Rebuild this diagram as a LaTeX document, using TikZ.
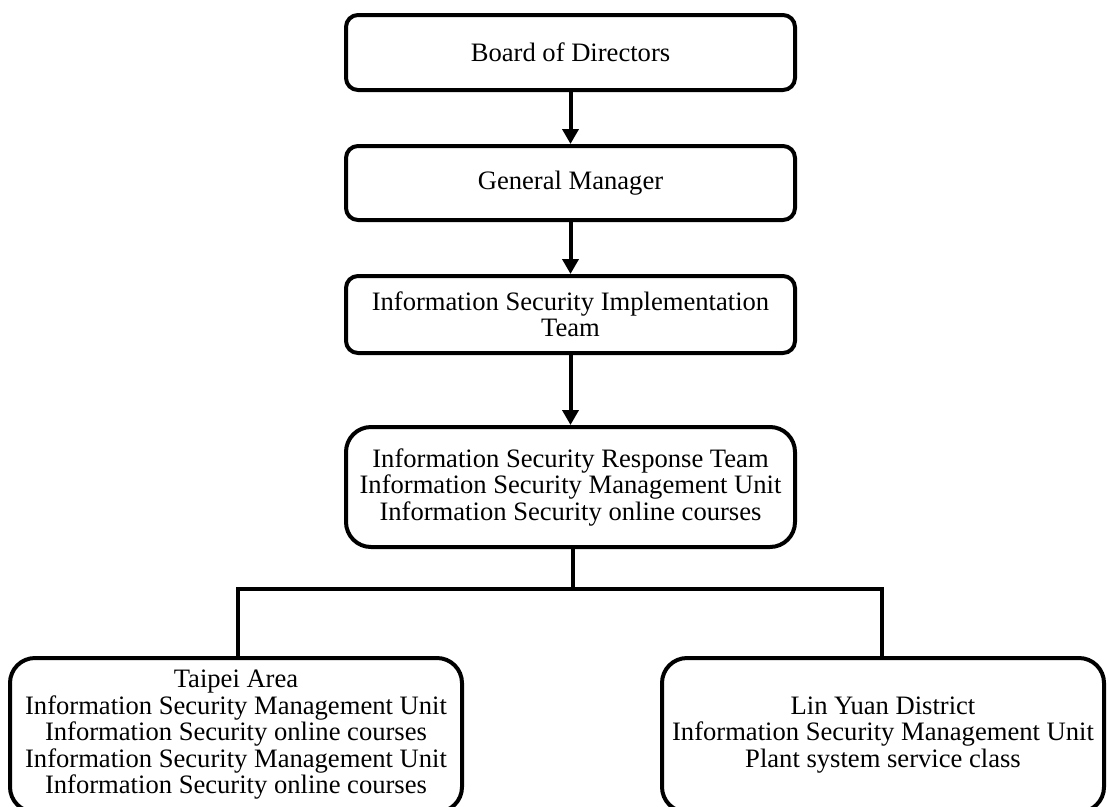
\documentclass[tikz,border=0pt]{standalone}
\usepackage{fontspec}
\setmainfont{Liberation Serif}
\usetikzlibrary{arrows.meta}
\begin{document}
\begin{tikzpicture}[x=1pt,y=-1pt,
  box/.style={draw=black, line width=4pt, fill=white, rounded corners=12pt, inner sep=0pt,
    align=center, font=\fontsize{26.6}{26.5}\selectfont, text=black},
  bigbox/.style={box, rounded corners=25pt},
  arr/.style={line width=4pt, -{Triangle[width=16pt,length=15pt]}},
  conn/.style={line width=3.8pt}]
\useasboundingbox (0,0) rectangle (1107,806);
\node[box, minimum width=449pt, minimum height=75pt] (b1) at (570.5,52.5) {Board of Directors};
\node[box, minimum width=449pt, minimum height=74pt] (b2) at (570.5,183) {General Manager};
\node[box, minimum width=449pt, minimum height=77pt] (b3) at (570.5,314.5) {Information Security Implementation\\Team};
\node[bigbox, minimum width=449pt, minimum height=120pt] (b4) at (570.5,487) {Information Security Response Team\\Information Security Management Unit\\Information Security online courses};
\node[bigbox, minimum width=452pt, minimum height=154pt] (l) at (236,735) {Taipei Area\\Information Security Management Unit\\Information Security online courses\\Information Security Management Unit\\Information Security online courses};
\node[bigbox, minimum width=442pt, minimum height=154pt] (r) at (883,735) {Lin Yuan District\\Information Security Management Unit\\Plant system service class};
\draw[arr] (b1) -- (b2);
\draw[arr] (b2) -- (b3);
\draw[arr] (b3) -- (b4);
\coordinate (j) at (573,589);
\coordinate (jl) at (238,589);
\coordinate (jr) at (882,589);
\draw[conn] (b4.south -| j) -- (j);
\draw[conn] (jl |- l.north) -- (jl) -- (jr) -- (jr |- r.north);
\end{tikzpicture}
\end{document}
